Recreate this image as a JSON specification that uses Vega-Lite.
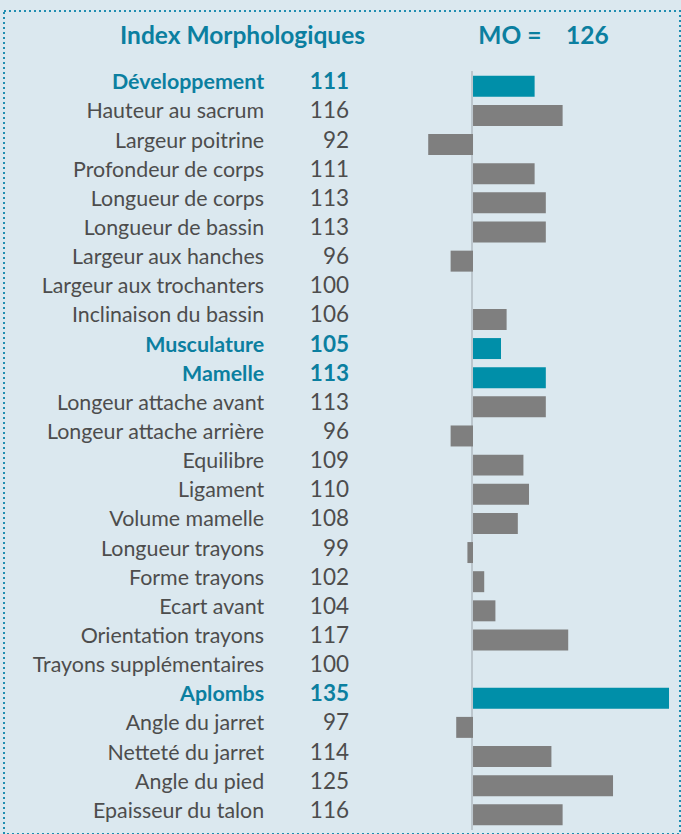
{
  "$schema": "https://vega.github.io/schema/vega-lite/v6.json",
  "autosize": "none",
  "width": 676,
  "height": 823,
  "padding": {"left": 4, "top": 11, "right": 1, "bottom": 0},
  "background": "#dbe8ef",
  "config": {
    "view": {"stroke": "#1f8db0", "strokeWidth": 2, "strokeDash": [2, 3], "fill": "#dbe8ef"},
    "font": "Lato"
  },
  "title": {
    "text": "Index Morphologiques\u2003\u2003\u2003\u2003\u2003\u2003\u2009MO =\u2003\u2005126",
    "anchor": "start",
    "frame": "group",
    "dx": 116,
    "offset": -57,
    "baseline": "alphabetic",
    "font": "Lato",
    "fontSize": 24.5,
    "fontWeight": "bold",
    "color": "#0b7fa0"
  },
  "data": {
    "values": [
      {"name": "Développement", "v": 111, "cat": "group"},
      {"name": "Hauteur au sacrum", "v": 116, "cat": "item"},
      {"name": "Largeur poitrine", "v": 92, "cat": "item"},
      {"name": "Profondeur de corps", "v": 111, "cat": "item"},
      {"name": "Longueur de corps", "v": 113, "cat": "item"},
      {"name": "Longueur de bassin", "v": 113, "cat": "item"},
      {"name": "Largeur aux hanches", "v": 96, "cat": "item"},
      {"name": "Largeur aux trochanters", "v": 100, "cat": "item"},
      {"name": "Inclinaison du bassin", "v": 106, "cat": "item"},
      {"name": "Musculature", "v": 105, "cat": "group"},
      {"name": "Mamelle", "v": 113, "cat": "group"},
      {"name": "Longeur attache avant", "v": 113, "cat": "item"},
      {"name": "Longeur attache arrière", "v": 96, "cat": "item"},
      {"name": "Equilibre", "v": 109, "cat": "item"},
      {"name": "Ligament", "v": 110, "cat": "item"},
      {"name": "Volume mamelle", "v": 108, "cat": "item"},
      {"name": "Longueur trayons", "v": 99, "cat": "item"},
      {"name": "Forme trayons", "v": 102, "cat": "item"},
      {"name": "Ecart avant", "v": 104, "cat": "item"},
      {"name": "Orientation trayons", "v": 117, "cat": "item"},
      {"name": "Trayons supplémentaires", "v": 100, "cat": "item"},
      {"name": "Aplombs", "v": 135, "cat": "group"},
      {"name": "Angle du jarret", "v": 97, "cat": "item"},
      {"name": "Netteté du jarret", "v": 114, "cat": "item"},
      {"name": "Angle du pied", "v": 125, "cat": "item"},
      {"name": "Epaisseur du talon", "v": 116, "cat": "item"}
    ]
  },
  "encoding": {
    "y": {
      "field": "name",
      "type": "nominal",
      "sort": null,
      "axis": null,
      "scale": {
        "domain": ["Développement", "Hauteur au sacrum", "Largeur poitrine", "Profondeur de corps", "Longueur de corps", "Longueur de bassin", "Largeur aux hanches", "Largeur aux trochanters", "Inclinaison du bassin", "Musculature", "Mamelle", "Longeur attache avant", "Longeur attache arrière", "Equilibre", "Ligament", "Volume mamelle", "Longueur trayons", "Forme trayons", "Ecart avant", "Orientation trayons", "Trayons supplémentaires", "Aplombs", "Angle du jarret", "Netteté du jarret", "Angle du pied", "Epaisseur du talon"],
        "range": [64.8, 814.3],
        "paddingInner": 0.28,
        "paddingOuter": 0
      }
    }
  },
  "layer": [
    {
      "mark": {"type": "rule", "color": "#bcc6cd", "strokeWidth": 1.5},
      "encoding": {
        "x": {"datum": 99.85, "type": "quantitative", "scale": {"domain": [16.25, 136.96], "nice": false, "zero": false}, "axis": null},
        "y": {"datum": "Développement", "type": "nominal", "bandPosition": -0.2},
        "y2": {"datum": "Epaisseur du talon", "bandPosition": 1.2}
      }
    },
    {
      "mark": {"type": "bar"},
      "encoding": {
        "x": {"field": "v", "type": "quantitative", "axis": null},
        "x2": {"datum": 100},
        "color": {
          "field": "cat",
          "type": "nominal",
          "scale": {"domain": ["group", "item"], "range": ["#008fa9", "#7f7f7f"]},
          "legend": null
        }
      }
    },
    {
      "transform": [{"filter": "datum.cat === 'item'"}],
      "mark": {"type": "text", "align": "right", "baseline": "alphabetic", "dy": 3, "fontSize": 21.4, "font": "Lato", "color": "#4d4d4d"},
      "encoding": {
        "x": {"datum": 62.7, "type": "quantitative"},
        "text": {"field": "name"}
      }
    },
    {
      "transform": [{"filter": "datum.cat === 'group'"}],
      "mark": {"type": "text", "align": "right", "baseline": "alphabetic", "dy": 3, "fontSize": 21.4, "font": "Lato", "fontWeight": "bold", "color": "#0b7fa0"},
      "encoding": {
        "x": {"datum": 62.7, "type": "quantitative"},
        "text": {"field": "name"}
      }
    },
    {
      "transform": [{"filter": "datum.cat === 'item'"}],
      "mark": {"type": "text", "align": "right", "baseline": "alphabetic", "dy": 3, "fontSize": 22.5, "font": "Lato", "color": "#4d4d4d"},
      "encoding": {
        "x": {"datum": 77.86, "type": "quantitative"},
        "text": {"field": "v"}
      }
    },
    {
      "transform": [{"filter": "datum.cat === 'group'"}],
      "mark": {"type": "text", "align": "right", "baseline": "alphabetic", "dy": 3, "fontSize": 22.5, "font": "Lato", "fontWeight": "bold", "color": "#0b7fa0"},
      "encoding": {
        "x": {"datum": 77.86, "type": "quantitative"},
        "text": {"field": "v"}
      }
    }
  ]
}
